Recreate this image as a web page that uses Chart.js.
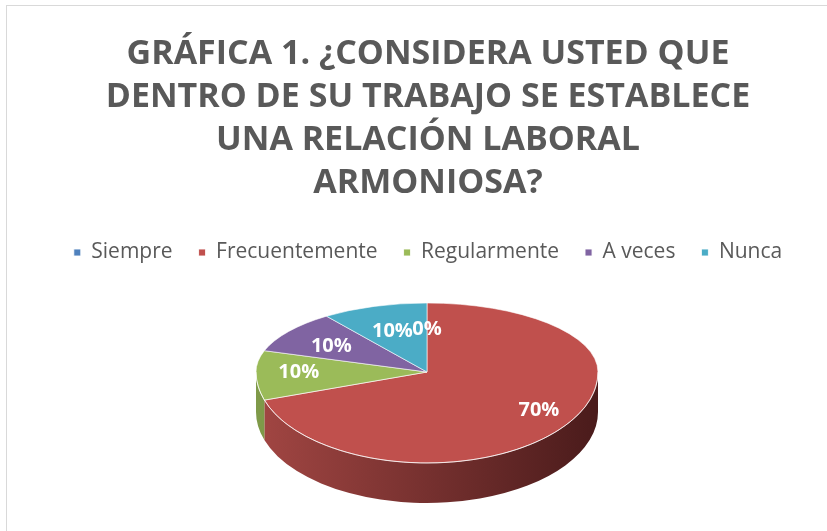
<!DOCTYPE html>
<html><head><meta charset="utf-8">
<script src="https://cdn.jsdelivr.net/npm/chart.js@4/dist/chart.umd.min.js"></script>
<style>
html,body{margin:0;padding:0;background:#fff;overflow:hidden;width:827px;height:531px}
#wrap{position:absolute;left:6px;top:5px;width:842px;height:530px;border-left:1px solid #d9d9d9;border-top:1px solid #d9d9d9;background:#fff}
canvas{display:block}
</style></head>
<body><div id="wrap"><canvas id="c" width="842" height="530"></canvas></div>
<script>
const titleLines = ['GRÁFICA 1. ¿CONSIDERA USTED QUE', 'DENTRO DE SU TRABAJO SE ESTABLECE', 'UNA RELACIÓN LABORAL', 'ARMONIOSA?'];
const categories = ['Siempre', 'Frecuentemente', 'Regularmente', 'A veces', 'Nunca'];
const percentages = [0, 70, 10, 10, 10];
const sliceColors = ['#4F81BD', '#C0504D', '#9BBB59', '#8064A2', '#4BACC6'];
const sideColors = [['#3d6594','#2c4a6e'], ['#a24643','#4a1b1b'], ['#7f9a49','#5a6d33'], ['#6a5286','#4a3a5e'], ['#3e8ea3','#2c6473']];

// 3D tilted pie with simple perspective (visual style only): back half flatter than front half
const PIE = { cx: 420, cy: 366, r: 171, ryBack: 69, ryFront: 91, depth: 40 };

const pie3d = {
  id: 'pie3d',
  beforeDatasetsDraw(chart) {
    const ctx = chart.ctx;
    const meta = chart.getDatasetMeta(0);
    const arcs = meta.data;
    const ox = arcs[0].x, oy = arcs[0].y;
    const {cx, cy, r, ryBack, ryFront, depth} = PIE;
    // side walls (front half only, canvas angles 0..PI)
    arcs.forEach((arc, i) => {
      const a0 = arc.startAngle, a1 = arc.endAngle;
      for (const shift of [-2*Math.PI, 0, 2*Math.PI]) {
        const s = Math.max(a0 + shift, 0), e = Math.min(a1 + shift, Math.PI);
        if (e <= s + 1e-6) continue;
        const g = ctx.createLinearGradient(cx - r, 0, cx + r, 0);
        g.addColorStop(0, sideColors[i][0]);
        g.addColorStop(1, sideColors[i][1]);
        ctx.save();
        ctx.beginPath();
        ctx.ellipse(cx, cy, r, ryFront, 0, s, e, false);
        ctx.lineTo(cx + r * Math.cos(e), cy + ryFront * Math.sin(e) + depth);
        ctx.ellipse(cx, cy + depth, r, ryFront, 0, e, s, true);
        ctx.closePath();
        ctx.fillStyle = g;
        ctx.fill();
        ctx.restore();
      }
    });
    // back half of the top face, drawn by the library's own controller
    ctx.save();
    ctx.beginPath();
    ctx.rect(0, 0, chart.width, cy);
    ctx.clip();
    ctx.translate(cx, cy);
    ctx.scale(1, ryBack / r);
    ctx.translate(-ox, -oy);
    meta.controller.draw();
    ctx.restore();
    // front half: let the library draw it in this transform
    ctx.save();
    ctx.beginPath();
    ctx.rect(0, cy, chart.width, chart.height - cy);
    ctx.clip();
    ctx.translate(cx, cy);
    ctx.scale(1, ryFront / r);
    ctx.translate(-ox, -oy);
  },
  afterDatasetsDraw(chart) {
    const ctx = chart.ctx;
    ctx.restore();
    const {cx, cy, r, ryBack, ryFront} = PIE;
    // light rim highlight on the front edge
    ctx.save();
    ctx.beginPath();
    ctx.ellipse(cx, cy, r, ryFront, 0, 0, Math.PI, false);
    ctx.strokeStyle = 'rgba(255,255,255,0.55)';
    ctx.lineWidth = 1;
    ctx.stroke();
    ctx.restore();
    // data labels
    const arcs = chart.getDatasetMeta(0).data;
    const vals = chart.data.datasets[0].data;
    ctx.save();
    ctx.font = 'bold 20px "Open Sans"';
    ctx.fillStyle = '#ffffff';
    ctx.textAlign = 'center';
    ctx.textBaseline = 'middle';
    arcs.forEach((arc, i) => {
      const mid = (arc.startAngle + arc.endAngle) / 2;
      const sn = Math.sin(mid), cs = Math.cos(mid);
      const fx = 0.75 + 0.1 * sn;
      const x = cx + fx * r * cs;
      const y = cy + sn * (sn < 0 ? 43 : 65);
      ctx.fillText(vals[i] + '%', x, y);
    });
    ctx.restore();
  }
};

new Chart(document.getElementById('c'), {
  type: 'pie',
  data: {
    labels: categories,
    datasets: [{
      data: percentages,
      backgroundColor: sliceColors,
      borderColor: 'rgba(255,255,255,0.85)',
      borderWidth: 1,
      radius: PIE.r,
      clip: false
    }]
  },
  options: {
    responsive: false,
    animation: false,
    events: [],
    layout: { padding: 0 },
    plugins: {
      title: {
        display: true,
        text: titleLines,
        color: '#595959',
        font: { family: 'Open Sans', size: 34, weight: 'bold', lineHeight: 43/34 },
        padding: { top: 27, bottom: 11 }
      },
      legend: {
        position: 'top',
        labels: {
          color: '#595959',
          font: { family: 'Open Sans', size: 21 },
          boxWidth: 7,
          boxHeight: 7,
          padding: 26
        }
      },
      tooltip: { enabled: false }
    }
  },
  plugins: [pie3d]
});
</script></body></html>
